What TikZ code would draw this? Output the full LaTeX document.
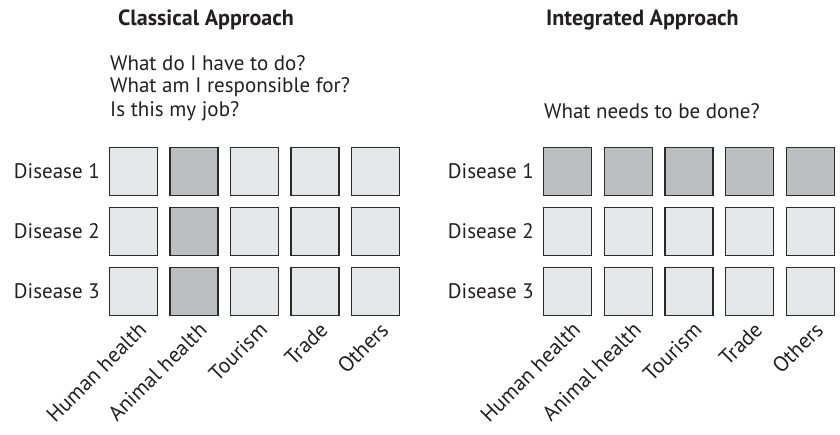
\documentclass[tikz,border=0pt]{standalone}
\usepackage{fontspec}
\setmainfont{PT Sans}
\definecolor{boxlight}{HTML}{E6E7E8}
\definecolor{boxdark}{HTML}{BCBEC0}
\definecolor{boxline}{HTML}{2B2B2B}
\definecolor{txt}{HTML}{231F20}
\begin{document}
\begin{tikzpicture}[x=1pt,y=-1pt,
  cell/.style={draw=boxline,line width=1.3pt,inner sep=0pt,minimum size=48pt,fill=boxlight},
  hot/.style={fill=boxdark},
  title/.style={anchor=west,font=\fontsize{22}{24}\selectfont\bfseries,text=txt,inner sep=0pt},
  question/.style={anchor=west,font=\fontsize{21}{23}\selectfont,text=txt,inner sep=0pt},
  rowlab/.style={anchor=east,font=\fontsize{21}{23}\selectfont,text=txt,inner sep=0pt},
  collab/.style={anchor=east,rotate=45,font=\fontsize{21.5}{23}\selectfont,text=txt,inner sep=0pt}]
\useasboundingbox (0,0) rectangle (840,435);
% Left panel
\node[title] (tl) at (118,20) {Classical Approach};
\node[question] (q1) at (110,63) {What do I have to do?};
\node[question] (q2) at (110,87) {What am I responsible for?};
\node[question] (q3) at (110,111) {Is this my job?};
\foreach \r in {1,2,3}{
  \node[rowlab] (ld\r) at (100,{171.5+60*(\r-1)}) {Disease \r};
  \foreach \c in {1,...,5}{
    \ifnum\c=2
      \node[cell,hot] (L\r\c) at ({133.5+60.5*(\c-1)},{171.5+60*(\r-1)}) {};
    \else
      \node[cell] (L\r\c) at ({133.5+60.5*(\c-1)},{171.5+60*(\r-1)}) {};
    \fi
  }
}
\node[collab] (lc1) at ([xshift=9pt,yshift=-10pt]L31.south) {Human health};
\node[collab] (lc2) at ([xshift=9pt,yshift=-10pt]L32.south) {Animal health};
\node[collab] (lc3) at ([xshift=9pt,yshift=-10pt]L33.south) {Tourism};
\node[collab] (lc4) at ([xshift=9pt,yshift=-10pt]L34.south) {Trade};
\node[collab] (lc5) at ([xshift=9pt,yshift=-10pt]L35.south) {Others};
% Right panel
\node[title] (tr) at (546,20) {Integrated Approach};
\node[question] (q4) at (544,111) {What needs to be done?};
\foreach \r in {1,2,3}{
  \node[rowlab] (rd\r) at (534,{171.5+60*(\r-1)}) {Disease \r};
  \foreach \c in {1,...,5}{
    \ifnum\r=1
      \node[cell,hot] (R\r\c) at ({567.5+60.7*(\c-1)},{171.5+60*(\r-1)}) {};
    \else
      \node[cell] (R\r\c) at ({567.5+60.7*(\c-1)},{171.5+60*(\r-1)}) {};
    \fi
  }
}
\node[collab] (rc1) at ([xshift=9pt,yshift=-10pt]R31.south) {Human health};
\node[collab] (rc2) at ([xshift=9pt,yshift=-10pt]R32.south) {Animal health};
\node[collab] (rc3) at ([xshift=9pt,yshift=-10pt]R33.south) {Tourism};
\node[collab] (rc4) at ([xshift=9pt,yshift=-10pt]R34.south) {Trade};
\node[collab] (rc5) at ([xshift=9pt,yshift=-10pt]R35.south) {Others};
\end{tikzpicture}
\end{document}
